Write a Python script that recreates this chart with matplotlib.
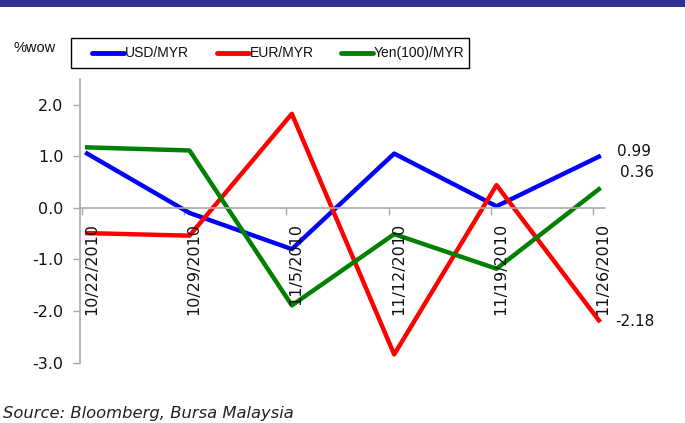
import matplotlib
matplotlib.use("Agg")
import matplotlib.pyplot as plt
from matplotlib.patches import Rectangle
from matplotlib.lines import Line2D

plt.rcParams["font.family"] = "DejaVu Sans"
plt.rcParams["axes.unicode_minus"] = False

dates = ["10/22/2010", "10/29/2010", "11/5/2010", "11/12/2010", "11/19/2010", "11/26/2010"]
usd_myr = [1.05, -0.10, -0.80, 1.05, 0.03, 0.99]
eur_myr = [-0.49, -0.54, 1.82, -2.84, 0.44, -2.18]
yen_myr = [1.17, 1.11, -1.89, -0.51, -1.18, 0.36]

series = [
    ("USD/MYR", usd_myr, "#0000ff"),
    ("EUR/MYR", eur_myr, "#ff0000"),
    ("Yen(100)/MYR", yen_myr, "#008000"),
]

W, H = 685, 423
fig = plt.figure(figsize=(W / 100, H / 100), dpi=100)
ax = fig.add_axes([80 / W, 1 - 362.7 / H, 525 / W, (362.7 - 78.7) / H])

x = list(range(len(dates)))
for name, vals, col in series:
    ax.plot(x, vals, color=col, lw=3.2, label=name)

ax.set_xlim(-0.07, 5.06)
ax.set_ylim(-3.0, 2.5)
yt = [-3, -2, -1, 0, 1, 2]
ax.set_yticks(yt)
ax.set_yticklabels([f"{v:.1f}" for v in yt], fontsize=11.5, color="#111111")
ax.tick_params(axis="y", length=5, width=1, color="#a8a8a8", pad=7)

# category axis sits on the zero line
ax.spines["bottom"].set_position(("data", 0))
ax.spines["top"].set_visible(False)
ax.spines["right"].set_visible(False)
for s in ("left", "bottom"):
    ax.spines[s].set_color("#a8a8a8")
    ax.spines[s].set_linewidth(1.2)
ax.set_xticks([i - 0.055 for i in x])
ax.set_xticklabels([])
ax.tick_params(axis="x", direction="out", length=5, width=1, color="#a8a8a8")

for i, d in enumerate(dates):
    ax.annotate(d, (i, 0), xytext=(3, -11), textcoords="offset points",
                rotation=90, ha="center", va="top", fontsize=11.5, color="#111111")

# end-of-period values
last = len(dates) - 1
ax.annotate(f"{usd_myr[-1]:.2f}", (last, usd_myr[-1]), xytext=(13, 4), textcoords="offset points",
            ha="left", va="center", fontsize=11, color="#111111")
ax.annotate(f"{yen_myr[-1]:.2f}", (last, yen_myr[-1]), xytext=(15, 12), textcoords="offset points",
            ha="left", va="center", fontsize=11, color="#111111")
ax.annotate(f"{eur_myr[-1]:.2f}", (last, eur_myr[-1]), xytext=(12, -1), textcoords="offset points",
            ha="left", va="center", fontsize=11, color="#111111")

# legend box across the top
fig.patches.append(Rectangle((71 / W, 1 - 68 / H), 398 / W, 30 / H, transform=fig.transFigure,
                             facecolor="white", edgecolor="black", lw=1.0))
legend_x = [92, 217, 341]
for lx, (name, vals, col) in zip(legend_x, series):
    fig.lines.append(Line2D([lx / W, (lx + 32) / W], [1 - 53 / H] * 2, transform=fig.transFigure,
                            color=col, lw=3.5, solid_capstyle="round"))
    fig.text((lx + 33) / W, 1 - 53 / H, name, fontsize=10, family="Liberation Sans",
             va="center", ha="left", color="#111111")

fig.text(13 / W, 1 - 48 / H, "%wow", fontsize=10.5, family="Liberation Sans",
         va="center", ha="left", color="#111111")
fig.text(3 / W, 1 - 413 / H, "Source: Bloomberg, Bursa Malaysia", fontsize=11.8,
         style="italic", va="center", ha="left", color="#222222")

fig.patches.append(Rectangle((0, 1 - 7 / H), 1, 7 / H, transform=fig.transFigure,
                             facecolor="#2e3192", edgecolor="none"))

fig.savefig("out.png", dpi=100)
